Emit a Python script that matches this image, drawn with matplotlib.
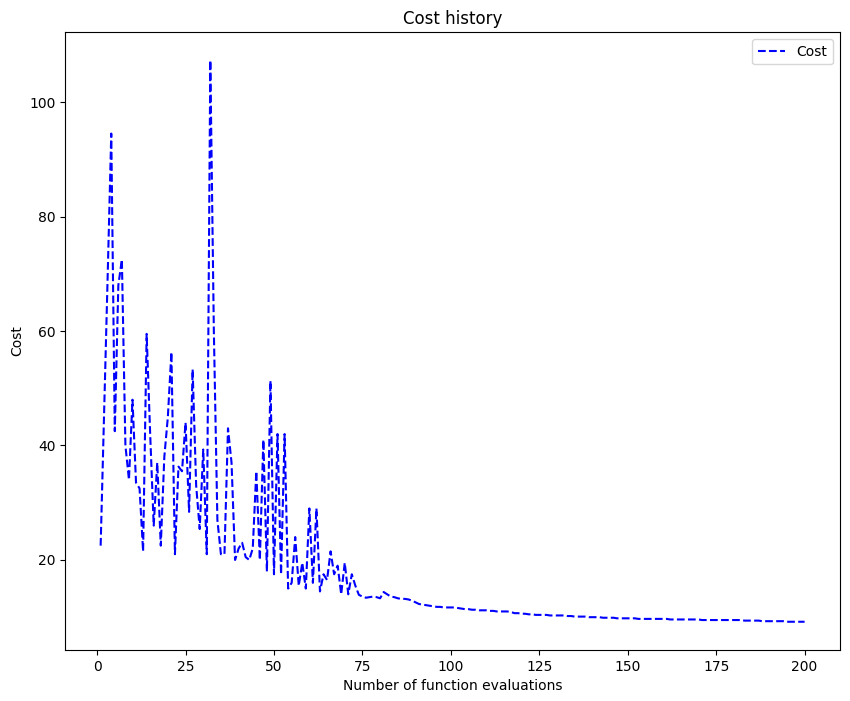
import numpy as np
import matplotlib
matplotlib.use("Agg")
import matplotlib.pyplot as plt

# cost per function evaluation
cost_early = [22.5, 46, 70, 94.5, 42.5, 68, 72.5, 40, 34, 48,
              33.5, 32.5, 21.5, 59.5, 42, 26, 37, 22.5, 38, 45,
              56.3, 21, 36.3, 35.5, 44, 28.4, 53.3, 33, 25.4, 39.3,
              21, 107.3, 60, 27, 21, 21, 43, 37, 20, 22,
              23, 20.5, 20, 22, 35.5, 20, 41, 18, 51.3, 17.5,
              42, 17.5, 42, 15, 16, 24, 15.5, 19.5, 15, 29,
              16, 29, 14.5, 17.5, 16.5, 21.5, 17.5, 19, 14, 19.5,
              14, 17.5, 15.5]
cost_tail = [13.9, 13.6, 13.4, 13.5, 13.6, 13.5, 13.3, 14.4, 14.0, 13.6,
             13.5, 13.3, 13.2, 13.2, 13.1, 12.9, 12.6,
             12.3, 12.2, 12.1, 12.0, 11.9, 11.8, 11.8, 11.7, 11.7, 11.7,
             11.7, 11.6, 11.5, 11.4, 11.4, 11.3, 11.3, 11.2, 11.2, 11.2,
             11.1, 11.1, 11.0, 11.0, 11.0, 11.0, 10.9, 10.7, 10.7, 10.6,
             10.6, 10.5, 10.5, 10.4, 10.4, 10.4, 10.4, 10.3, 10.3, 10.3,
             10.3, 10.3, 10.2, 10.2, 10.1, 10.1, 10.1, 10.1, 10.0, 10.0,
             10.0, 10.0, 9.9, 9.9, 9.9, 9.9, 9.8, 9.8, 9.8, 9.8,
             9.8, 9.8, 9.7, 9.7, 9.7, 9.7, 9.7, 9.7, 9.7, 9.7,
             9.7, 9.6, 9.6, 9.6, 9.6, 9.6, 9.6, 9.6, 9.6, 9.6,
             9.5, 9.5, 9.5, 9.5, 9.5, 9.5, 9.5, 9.5, 9.5, 9.5,
             9.5, 9.5, 9.4, 9.4, 9.4, 9.4, 9.4, 9.3, 9.3, 9.3,
             9.3, 9.3, 9.3, 9.3, 9.2, 9.2, 9.2, 9.2, 9.2, 9.2]

cost = np.array(cost_early + cost_tail)
evals = np.arange(1, len(cost) + 1)

fig, ax = plt.subplots(figsize=(8.5, 7.01), dpi=100)
fig.subplots_adjust(left=0.077, right=0.988, top=0.954, bottom=0.073)

ax.plot(evals, cost, 'b--', label='Cost')
ax.set_title('Cost history')
ax.set_xlabel('Number of function evaluations')
ax.set_ylabel('Cost')
ax.legend(loc='upper right')

fig.savefig('out.png', dpi=100)
